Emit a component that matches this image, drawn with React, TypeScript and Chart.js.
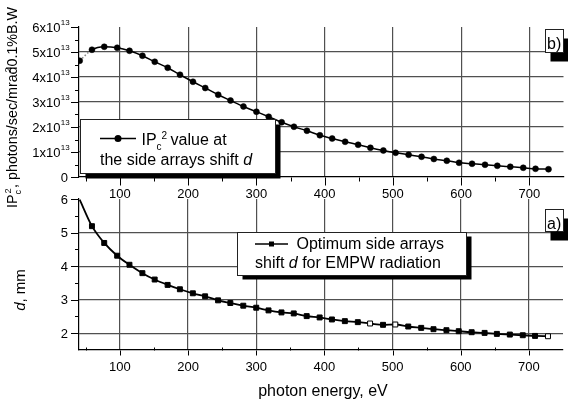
import React, { useEffect, useRef } from 'react';
import { Chart, registerables } from 'chart.js';

Chart.register(...registerables);

const W = 568;
const H = 405;
const FONT = '"Liberation Sans", Arial, sans-serif';

// photon energy (eV) of each computed point
const photonEnergy = [41, 59, 77, 96, 114, 133, 151, 170, 188, 207, 225, 244, 262, 281, 300, 318, 337, 355, 374, 393, 411, 430, 449, 467, 486, 504, 523, 542, 560, 579, 597, 616, 635, 653, 672, 691, 709, 728];
// panel b): IPc^2 value, photons/sec/mrad^2/0.1%B.W
const ipc2Value = [4.65e13, 5.09e13, 5.21e13, 5.17e13, 5.05e13, 4.85e13, 4.61e13, 4.37e13, 4.09e13, 3.81e13, 3.56e13, 3.29e13, 3.06e13, 2.82e13, 2.61e13, 2.41e13, 2.19e13, 2.01e13, 1.85e13, 1.67e13, 1.54e13, 1.41e13, 1.29e13, 1.17e13, 1.06e13, 0.97e13, 0.89e13, 0.81e13, 0.72e13, 0.65e13, 0.57e13, 0.53e13, 0.49e13, 0.45e13, 0.41e13, 0.37e13, 0.33e13, 0.31e13];
// panel a): optimum side arrays shift d, mm
const optimumShift = [5.98, 5.19, 4.69, 4.31, 4.04, 3.79, 3.6, 3.44, 3.31, 3.19, 3.1, 2.98, 2.9, 2.82, 2.76, 2.68, 2.62, 2.59, 2.51, 2.47, 2.41, 2.36, 2.33, 2.29, 2.25, 2.26, 2.2, 2.16, 2.12, 2.09, 2.06, 2.03, 2.01, 1.98, 1.96, 1.94, 1.92, 1.91];
const openMarkerIndex = [23, 25, 37];

const energyTicks = [100, 200, 300, 400, 500, 600, 700];
const energyMinorTicks = [50, 150, 250, 350, 450, 550, 650, 750];
const ipc2Ticks = [0, 1e13, 2e13, 3e13, 4e13, 5e13, 6e13];
const ipc2TickMantissa = ['0', '1x10', '2x10', '3x10', '4x10', '5x10', '6x10'];
const ipc2TickExponent = ['', '13', '13', '13', '13', '13', '13'];
const shiftTicks = [2, 3, 4, 5, 6];
const shiftTickLabels = ['2', '3', '4', '5', '6'];

const px = (v: number) => Math.round(v) + 0.5;

function line(ctx: CanvasRenderingContext2D, x1: number, y1: number, x2: number, y2: number) {
  ctx.beginPath();
  ctx.moveTo(x1, y1);
  ctx.lineTo(x2, y2);
  ctx.stroke();
}

function drawXTicks(chart: any, majorDown: number, minorDir: number) {
  const ctx: CanvasRenderingContext2D = chart.ctx;
  const xs = chart.scales.x;
  const { left, right, bottom } = chart.chartArea;
  ctx.strokeStyle = '#000';
  ctx.lineWidth = 1;
  const yb = px(bottom);
  energyTicks.forEach((v) => {
    const x = px(xs.getPixelForValue(v));
    line(ctx, x, yb, x, yb + majorDown);
  });
  energyMinorTicks.forEach((v) => {
    const x = px(xs.getPixelForValue(v));
    if (x < left || x > right) return;
    line(ctx, x, yb, x, yb + minorDir);
  });
  ctx.fillStyle = '#000';
  ctx.font = `13px ${FONT}`;
  ctx.textAlign = 'center';
  ctx.textBaseline = 'alphabetic';
  energyTicks.forEach((v) => {
    ctx.fillText(String(v), xs.getPixelForValue(v), bottom + 21);
  });
}

function drawBox(ctx: CanvasRenderingContext2D, x: number, y: number, w: number, h: number, dx: number, dy: number) {
  ctx.fillStyle = '#000';
  ctx.fillRect(x + dx, y + dy, w, h);
  ctx.fillStyle = '#fff';
  ctx.fillRect(x, y, w, h);
  ctx.strokeStyle = '#222';
  ctx.lineWidth = 1;
  ctx.strokeRect(x, y, w, h);
}

const topDecor = {
  id: 'topDecor',
  afterDraw(chart: any) {
    const ctx: CanvasRenderingContext2D = chart.ctx;
    const ys = chart.scales.y;
    const { left } = chart.chartArea;
    ctx.save();
    ctx.strokeStyle = '#000';
    ctx.lineWidth = 1;
    ipc2Ticks.forEach((v, i) => {
      const y = px(ys.getPixelForValue(v));
      line(ctx, left - 8, y, left, y);
      if (i < ipc2Ticks.length - 1) {
        const ym = px(ys.getPixelForValue((v + ipc2Ticks[i + 1]) / 2));
        line(ctx, left - 4, ym, left, ym);
      }
    });
    ctx.fillStyle = '#000';
    ctx.textBaseline = 'alphabetic';
    ipc2Ticks.forEach((v, i) => {
      const y = ys.getPixelForValue(v);
      if (ipc2TickExponent[i]) {
        ctx.font = `13px ${FONT}`;
        ctx.textAlign = 'right';
        ctx.fillText(ipc2TickMantissa[i], left - 18.5, y + 4.5);
        ctx.font = `8px ${FONT}`;
        ctx.textAlign = 'left';
        ctx.fillText(ipc2TickExponent[i], left - 18.3, y - 2);
      } else {
        ctx.font = `13px ${FONT}`;
        ctx.textAlign = 'right';
        ctx.fillText(ipc2TickMantissa[i], left - 11, y + 4.5);
      }
    });
    drawXTicks(chart, 8, 4);

    // y title (rotated)
    ctx.save();
    ctx.translate(17, 208);
    ctx.rotate(-Math.PI / 2);
    const big = `14px ${FONT}`;
    const small = `9px ${FONT}`;
    ctx.font = big;
    const wIP = ctx.measureText('IP').width;
    const wMid = ctx.measureText(', photons/sec/mrad').width;
    const wEnd = ctx.measureText('0.1%B.W').width;
    ctx.font = small;
    const wSub = ctx.measureText('c').width + 2;
    const total = wIP + wSub + wMid + wEnd;
    ctx.scale(201 / total, 1);
    ctx.textAlign = 'left';
    let x = 0;
    ctx.font = big;
    ctx.fillText('IP', x, 0);
    x += wIP;
    ctx.font = small;
    ctx.fillText('c', x, 3.5);
    ctx.fillText('2', x + 1, -6.5);
    x += wSub;
    ctx.font = big;
    ctx.fillText(', photons/sec/mrad', x, 0);
    x += wMid;
    ctx.font = small;
    ctx.fillText('2', x - 6, -6.5);
    ctx.font = big;
    ctx.fillText('0.1%B.W', x, 0);
    ctx.restore();

    // legend
    drawBox(ctx, 80.5, 119.5, 195, 54, 5, 5);
    ctx.strokeStyle = '#000';
    ctx.lineWidth = 1.5;
    line(ctx, 100, 138.5, 136, 138.5);
    ctx.fillStyle = '#000';
    ctx.beginPath();
    ctx.arc(118, 138.5, 3.5, 0, Math.PI * 2);
    ctx.fill();
    ctx.textAlign = 'left';
    ctx.font = `16px ${FONT}`;
    ctx.fillText('IP', 141.5, 145);
    const ipEnd = 141.5 + ctx.measureText('IP').width;
    ctx.font = `10px ${FONT}`;
    ctx.fillText('c', ipEnd, 149.5);
    ctx.fillText('2', ipEnd + 5, 139);
    ctx.font = `16px ${FONT}`;
    ctx.fillText('value at', ipEnd + 14, 145);
    const l2 = 'the side arrays shift ';
    ctx.fillText(l2, 100, 164.5);
    const l2w = ctx.measureText(l2).width;
    ctx.font = `italic 16px ${FONT}`;
    ctx.fillText('d', 100 + l2w, 164.5);

    // panel label
    drawBox(ctx, 545.5, 29.5, 18, 23, 5, 9);
    ctx.fillStyle = '#000';
    ctx.font = `16px ${FONT}`;
    ctx.fillText('b)', 547, 48.5);
    ctx.restore();
  },
};

const bottomDecor = {
  id: 'bottomDecor',
  afterDraw(chart: any) {
    const ctx: CanvasRenderingContext2D = chart.ctx;
    const ys = chart.scales.y;
    const { left } = chart.chartArea;
    ctx.save();
    ctx.strokeStyle = '#000';
    ctx.lineWidth = 1;
    shiftTicks.forEach((v, i) => {
      const y = px(ys.getPixelForValue(v));
      line(ctx, left - 8, y, left, y);
      if (i < shiftTicks.length - 1) {
        const ym = px(ys.getPixelForValue((v + shiftTicks[i + 1]) / 2));
        line(ctx, left - 4, ym, left, ym);
      }
    });
    ctx.fillStyle = '#000';
    ctx.font = `13px ${FONT}`;
    ctx.textAlign = 'right';
    ctx.textBaseline = 'alphabetic';
    shiftTicks.forEach((v, i) => {
      ctx.fillText(shiftTickLabels[i], left - 11, ys.getPixelForValue(v) + 4.5);
    });
    drawXTicks(chart, 5, -3);

    // y title
    ctx.save();
    ctx.translate(24.5, 290);
    ctx.rotate(-Math.PI / 2);
    ctx.font = `italic 15px ${FONT}`;
    const wd = ctx.measureText('d').width;
    ctx.font = `15px ${FONT}`;
    const wr = ctx.measureText(', mm').width;
    const start = -(wd + wr) / 2;
    ctx.textAlign = 'left';
    ctx.font = `italic 15px ${FONT}`;
    ctx.fillText('d', start, 0);
    ctx.font = `15px ${FONT}`;
    ctx.fillText(', mm', start + wd, 0);
    ctx.restore();

    // x title
    ctx.font = `16px ${FONT}`;
    ctx.textAlign = 'center';
    ctx.fillText('photon energy, eV', 323, 396);

    // legend
    drawBox(ctx, 237.5, 232.5, 229, 43, 5, 4);
    ctx.strokeStyle = '#000';
    ctx.lineWidth = 1.5;
    line(ctx, 255, 244, 288, 244);
    ctx.fillStyle = '#000';
    ctx.fillRect(269, 241.5, 5, 5);
    ctx.textAlign = 'left';
    ctx.font = `16px ${FONT}`;
    ctx.fillText('Optimum side arrays', 296.5, 249);
    const s1 = 'shift ';
    ctx.fillText(s1, 255, 267.5);
    let x = 255 + ctx.measureText(s1).width;
    ctx.font = `italic 16px ${FONT}`;
    ctx.fillText('d', x, 267.5);
    x += ctx.measureText('d').width;
    ctx.font = `16px ${FONT}`;
    ctx.fillText(' for EMPW radiation', x, 267.5);

    // panel label
    drawBox(ctx, 545.5, 209.5, 18, 22, 5, 9);
    ctx.fillStyle = '#000';
    ctx.font = `16px ${FONT}`;
    ctx.fillText('a)', 547, 228.5);
    ctx.restore();
  },
};

function xScale() {
  return {
    type: 'linear' as const,
    min: 40,
    max: 750,
    afterBuildTicks: (s: any) => {
      s.ticks = energyTicks.map((v) => ({ value: v }));
    },
    afterFit: (s: any) => {
      s.height = 0;
    },
    ticks: { display: false },
    grid: { color: '#505050', lineWidth: 1.2, drawTicks: false },
    border: { display: true, color: '#000', width: 1.2 },
  };
}

function yScale(min: number, max: number, gridValues: number[]) {
  return {
    type: 'linear' as const,
    min,
    max,
    afterBuildTicks: (s: any) => {
      s.ticks = gridValues.map((v) => ({ value: v }));
    },
    afterFit: (s: any) => {
      s.width = 79;
    },
    ticks: { display: false },
    grid: { color: '#505050', lineWidth: 1.2, drawTicks: false },
    border: { display: true, color: '#000', width: 1.2 },
  };
}

export default function App() {
  const topRef = useRef<HTMLCanvasElement>(null);
  const botRef = useRef<HTMLCanvasElement>(null);

  useEffect(() => {
    const topChart = new Chart(topRef.current as HTMLCanvasElement, {
      type: 'line',
      data: {
        datasets: [
          {
            data: photonEnergy.map((e, i) => ({ x: e, y: ipc2Value[i] })),
            borderColor: '#000',
            borderWidth: 1.5,
            pointStyle: 'circle',
            pointRadius: 3,
            pointBorderWidth: 0.5,
            pointBackgroundColor: '#000',
            pointBorderColor: '#000',
            cubicInterpolationMode: 'monotone',
            segment: {
              borderDash: (c: any) => (c.p0DataIndex === 0 ? [1.5, 2] : undefined),
              borderColor: (c: any) => (c.p0DataIndex === 0 ? '#888' : undefined),
            },
          } as any,
        ],
      },
      options: {
        responsive: false,
        animation: false,
        events: [],
        layout: { padding: { left: 0, right: 0, top: 27, bottom: 228 } },
        plugins: { legend: { display: false }, tooltip: { enabled: false } },
        scales: {
          x: xScale(),
          y: yScale(0, 6e13, ipc2Ticks.filter((v) => v > 0 && v < 6e13)),
        },
      } as any,
      plugins: [topDecor],
    });

    const botChart = new Chart(botRef.current as HTMLCanvasElement, {
      type: 'line',
      data: {
        datasets: [
          {
            data: photonEnergy.map((e, i) => ({ x: e, y: optimumShift[i] })),
            borderColor: '#000',
            borderWidth: 1.8,
            pointStyle: 'rect',
            pointRadius: photonEnergy.map((_, i) => (i === 0 ? 0 : 3.5)),
            pointBackgroundColor: photonEnergy.map((_, i) => (openMarkerIndex.includes(i) ? '#fff' : '#000')),
            pointBorderColor: '#000',
            pointBorderWidth: 1,
            cubicInterpolationMode: 'monotone',
          } as any,
        ],
      },
      options: {
        responsive: false,
        animation: false,
        events: [],
        layout: { padding: { left: 0, right: 0, top: 199, bottom: 55 } },
        plugins: { legend: { display: false }, tooltip: { enabled: false } },
        scales: {
          x: xScale(),
          y: yScale(1.5, 6, shiftTicks.filter((v) => v < 6)),
        },
      } as any,
      plugins: [bottomDecor],
    });

    return () => {
      topChart.destroy();
      botChart.destroy();
    };
  }, []);

  return (
    <div style={{ position: 'fixed', left: 0, top: 0, width: W, height: H, background: '#fff' }}>
      <canvas ref={topRef} width={W} height={H} style={{ position: 'absolute', left: 0, top: 0, width: W, height: H }} />
      <canvas ref={botRef} width={W} height={H} style={{ position: 'absolute', left: 0, top: 0, width: W, height: H }} />
    </div>
  );
}
